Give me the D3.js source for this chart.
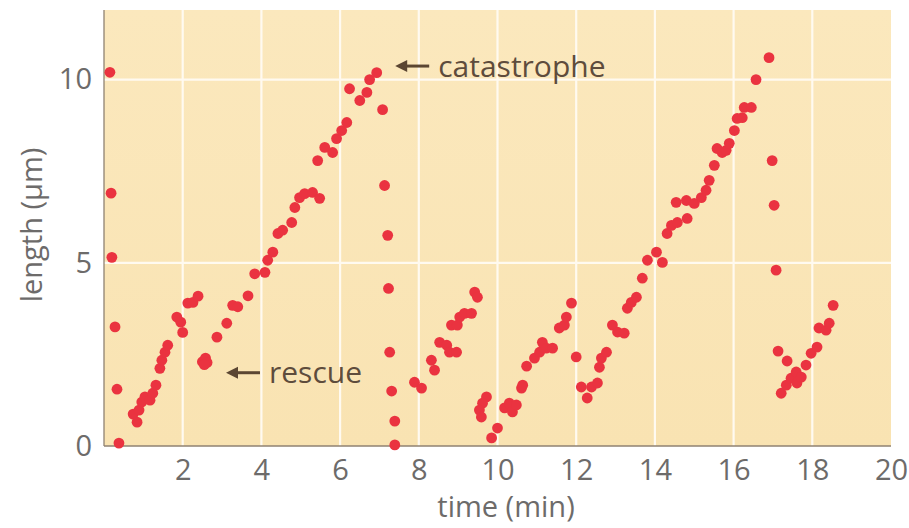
<!DOCTYPE html>
<html>
<head>
<meta charset="utf-8">
<script src="https://cdn.jsdelivr.net/npm/d3@7"></script>
<style>
  body { margin: 0; background: #fff; }
  svg { display: block; font-family: "Open Sans", "Noto Sans", sans-serif; }
</style>
</head>
<body>
<div id="chart"></div>
<script>
// microtubule length over time (dynamic instability)
const timeMin = [
  0.15, 0.18, 0.2, 0.28, 0.33, 0.38,
  0.74, 0.84, 0.89, 0.96, 1.04, 1.17, 1.24, 1.32, 1.42, 1.47, 1.55, 1.62,
  1.85, 1.95, 2.0, 2.13, 2.26, 2.39,
  2.5, 2.58, 2.62, 2.55,
  2.87, 3.12, 3.27, 3.4, 3.66, 3.83, 4.09, 4.16, 4.29, 4.42, 4.54, 4.77,
  4.85, 4.97, 5.1, 5.3, 5.48, 5.43, 5.61, 5.81, 5.91, 6.04, 6.17, 6.24,
  6.5, 6.68, 6.75, 6.93,
  7.08, 7.13, 7.21, 7.23, 7.26, 7.31, 7.39, 7.39,
  7.89, 8.07, 8.32, 8.4, 8.53, 8.71, 8.78, 8.96, 8.83, 8.98, 9.04, 9.16,
  9.34, 9.42, 9.49,
  9.72, 9.62, 9.54, 9.59, 9.85, 10.0,
  10.18, 10.3, 10.38, 10.48, 10.61, 10.64, 10.74, 10.94, 11.07, 11.14,
  11.24, 11.4, 11.57, 11.7, 11.75, 11.88,
  12.0, 12.28, 12.13, 12.39, 12.54,
  12.59, 12.64, 12.77, 12.92, 13.05, 13.22, 13.3, 13.4, 13.53, 13.68,
  13.81, 14.04, 14.19, 14.31, 14.42, 14.57, 14.82, 14.54, 14.8, 15.0,
  15.18, 15.3, 15.38, 15.51, 15.71, 15.58, 15.81, 15.89, 16.02, 16.09,
  16.22, 16.27, 16.45, 16.57, 16.9,
  16.98, 17.03, 17.08,
  17.13, 17.36, 17.21, 17.34, 17.46, 17.59, 17.61, 17.72, 17.84, 17.97,
  18.12, 18.17, 18.35, 18.43, 18.53
];
const lengthUm = [
  10.2, 6.9, 5.15, 3.25, 1.55, 0.08,
  0.87, 0.65, 0.98, 1.2, 1.34, 1.25, 1.44, 1.66, 2.12, 2.34, 2.56, 2.75,
  3.52, 3.38, 3.1, 3.9, 3.92, 4.09,
  2.3, 2.4, 2.28, 2.22,
  2.97, 3.35, 3.84, 3.8, 4.1, 4.7, 4.74, 5.07, 5.29, 5.8, 5.89, 6.1,
  6.51, 6.78, 6.89, 6.92, 6.76, 7.79, 8.15, 8.01, 8.39, 8.61, 8.83, 9.75,
  9.43, 9.65, 10.0, 10.19,
  9.18, 7.11, 5.75, 4.3, 2.56, 1.5, 0.68, 0.03,
  1.74, 1.58, 2.34, 2.07, 2.83, 2.75, 2.56, 2.56, 3.3, 3.3, 3.52, 3.62,
  3.62, 4.2, 4.06,
  1.34, 1.17, 0.98, 0.79, 0.22, 0.49,
  1.04, 1.17, 0.93, 1.12, 1.58, 1.66, 2.18, 2.4, 2.56, 2.83,
  2.67, 2.67, 3.22, 3.3, 3.52, 3.9,
  2.43, 1.31, 1.61, 1.61, 1.72,
  2.15, 2.4, 2.56, 3.3, 3.11, 3.08, 3.76, 3.92, 4.06, 4.58,
  5.07, 5.29, 5.01, 5.8, 6.02, 6.1, 6.21, 6.65, 6.7, 6.62,
  6.78, 6.98, 7.25, 7.66, 8.01, 8.12, 8.07, 8.26, 8.61, 8.94,
  8.96, 9.24, 9.24, 10.0, 10.6,
  7.79, 6.57, 4.8,
  2.59, 2.32, 1.44, 1.66, 1.85, 2.02, 1.72, 1.88, 2.21, 2.53,
  2.7, 3.22, 3.16, 3.35, 3.84
];
const xTicks = [2, 4, 6, 8, 10, 12, 14, 16, 18, 20];
const yTicks = [0, 5, 10];
const notes = [
  { text: "catastrophe", t: 7.4, len: 10.37 },
  { text: "rescue", t: 3.1, len: 2.0 }
];

const width = 909, height = 528;
const margin = { top: 10, right: 18, bottom: 82, left: 104 };

const x = d3.scaleLinear().domain([0, 20]).range([margin.left, width - margin.right]);
const y = d3.scaleLinear().domain([0, 11.9]).range([height - margin.bottom, margin.top]);

const svg = d3.select("#chart").append("svg")
  .attr("width", width)
  .attr("height", height);

// plot background
const bg = svg.append("defs").append("linearGradient")
  .attr("id", "bg").attr("x1", 0).attr("y1", 0).attr("x2", 0).attr("y2", 1);
bg.append("stop").attr("offset", "0%").attr("stop-color", "#fbe8bd");
bg.append("stop").attr("offset", "100%").attr("stop-color", "#f9e3b2");

svg.append("rect")
  .attr("x", x(0)).attr("y", y(11.9))
  .attr("width", x(20) - x(0)).attr("height", y(0) - y(11.9))
  .attr("fill", "url(#bg)");

// white grid
svg.append("g")
  .selectAll("line.vg")
  .data(xTicks.filter(d => d < 20))
  .enter().append("line")
  .attr("x1", d => x(d)).attr("x2", d => x(d))
  .attr("y1", y(11.9)).attr("y2", y(0))
  .attr("stroke", "#fffaf0").attr("stroke-width", 2.2);

svg.append("g")
  .selectAll("line.hg")
  .data(yTicks.filter(d => d > 0))
  .enter().append("line")
  .attr("x1", x(0)).attr("x2", x(20))
  .attr("y1", d => y(d)).attr("y2", d => y(d))
  .attr("stroke", "#fffaf0").attr("stroke-width", 2.2);

// axes
const xAxis = svg.append("g")
  .attr("transform", `translate(0,${y(0)})`)
  .call(d3.axisBottom(x).tickValues(xTicks).tickSize(0).tickPadding(13));
const yAxis = svg.append("g")
  .attr("transform", `translate(${x(0)},0)`)
  .call(d3.axisLeft(y).tickValues(yTicks).tickSize(0).tickPadding(12));

[xAxis, yAxis].forEach(g => {
  g.select(".domain").attr("stroke", "#8f8272").attr("stroke-width", 1.3);
  g.selectAll("text")
    .attr("fill", "#6d6b6a")
    .style("font-size", "29px")
    .style("font-family", "'Open Sans', sans-serif");
});
yAxis.select(".domain").attr("d", `M0,${y(11.9)}V${y(0)}`);
xAxis.select(".domain").attr("d", `M${x(0)},0H${x(20)}`);

svg.append("text")
  .attr("x", 506).attr("y", 517)
  .attr("text-anchor", "middle")
  .attr("fill", "#6d6b6a")
  .style("font-size", "29px")
  .text("time (min)");

svg.append("text")
  .attr("transform", `translate(42,225) rotate(-90)`)
  .attr("text-anchor", "middle")
  .attr("fill", "#6d6b6a")
  .style("font-size", "29px")
  .text("length (µm)");

// data points
svg.append("g")
  .selectAll("circle")
  .data(timeMin.map((t, i) => ({ t, len: lengthUm[i] })))
  .enter().append("circle")
  .attr("cx", d => x(d.t))
  .attr("cy", d => y(d.len))
  .attr("r", 5.4)
  .attr("fill", "#ea3340");

// annotations with arrows
const ann = svg.append("g").selectAll("g")
  .data(notes)
  .enter().append("g")
  .attr("transform", d => `translate(${x(d.t)},${y(d.len)})`);

ann.append("line")
  .attr("x1", 8).attr("x2", 34).attr("y1", 0).attr("y2", 0)
  .attr("stroke", "#5b4632").attr("stroke-width", 3);
ann.append("path")
  .attr("d", "M0,0L12,-6L12,6Z")
  .attr("fill", "#5b4632");
ann.append("text")
  .attr("x", 43).attr("dy", "0.35em")
  .attr("fill", "#5e4c3c")
  .style("font-size", "30px")
  .text(d => d.text);
</script>
</body>
</html>
